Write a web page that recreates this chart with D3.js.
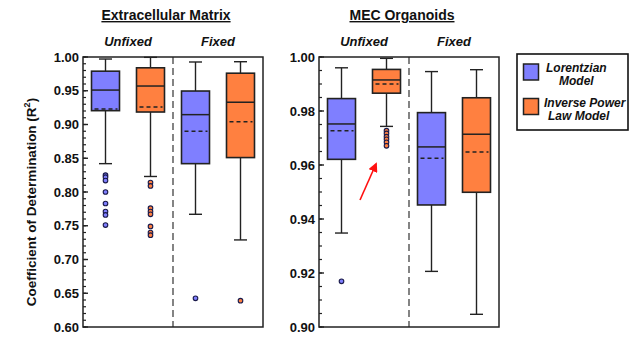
<!DOCTYPE html>
<html><head><meta charset="utf-8">
<script src="https://cdn.jsdelivr.net/npm/d3@7"></script>
<style>
html,body{margin:0;padding:0;background:#fff;}
text{font-family:"Liberation Sans",Arial,sans-serif;}
</style></head>
<body>
<svg id="chart" width="631" height="337"></svg>
<script>
// ---- data ----
const models = ["Lorentzian Model", "Inverse Power Law Model"];
const conditions = ["Unfixed", "Fixed"];
const boxKeys = ["L-Unfixed", "I-Unfixed", "L-Fixed", "I-Fixed"];

const ecmLow    = [0.842, 0.823, 0.767, 0.729];
const ecmQ1     = [0.9205, 0.9185, 0.842, 0.851];
const ecmMedian = [0.951, 0.957, 0.9146, 0.933];
const ecmQ3     = [0.979, 0.984, 0.9496, 0.976];
const ecmHigh   = [0.997, 0.9995, 0.9926, 0.993];
const ecmMean   = [0.923, 0.926, 0.890, 0.904];
const ecmOutliers = [
  [0.825, 0.822, 0.817, 0.800, 0.783, 0.771, 0.766, 0.751],
  [0.814, 0.809, 0.776, 0.771, 0.767, 0.749, 0.740, 0.736],
  [0.6425],
  [0.639]
];
const ecmTicks = [0.60, 0.65, 0.70, 0.75, 0.80, 0.85, 0.90, 0.95, 1.00];

const mecLow    = [0.9348, 0.9743, 0.9206, 0.9047];
const mecQ1     = [0.9621, 0.9866, 0.9452, 0.9499];
const mecMedian = [0.9752, 0.9915, 0.9667, 0.9714];
const mecQ3     = [0.9846, 0.9954, 0.9794, 0.9849];
const mecHigh   = [0.9960, 0.9995, 0.9946, 0.9953];
const mecMean   = [0.9727, 0.9900, 0.9625, 0.9648];
const mecOutliers = [
  [0.9169],
  [0.9727, 0.9717, 0.9705, 0.9695, 0.9684, 0.9671],
  [],
  []
];
const mecTicks = [0.90, 0.92, 0.94, 0.96, 0.98, 1.00];

const titles = ["Extracellular Matrix", "MEC Organoids"];
const yLabel = "Coefficient of Determination (R";
const colors = ["#7f7fff", "#ff8040"];

// ---- drawing ----
const svg = d3.select("#chart");
const plotTop = 57, plotBottom = 327, pw = 180;

function panel(x0, domain, ticks, minorStep, fmt, low, q1, med, q3, high, mean, outl, title) {
  const g = svg.append("g").attr("transform", `translate(${x0},0)`);
  const y = d3.scaleLinear().domain(domain).range([plotBottom, plotTop]);
  const x = d3.scaleBand().domain(boxKeys).range([0, pw]).padding(0);
  const bw = 28, cap = 13;
  const cx = k => x(k) + x.bandwidth() / 2;

  const nMinor = Math.round((domain[1] - domain[0]) / minorStep);
  const minors = d3.range(nMinor + 1).map(i => domain[0] + i * minorStep);
  g.selectAll(".minor").data(minors).join("line")
    .attr("x1", 0).attr("x2", 3).attr("y1", d => y(d)).attr("y2", d => y(d))
    .attr("stroke", "#222").attr("stroke-width", 1.2);
  g.selectAll(".major").data(ticks).join("line")
    .attr("x1", 0).attr("x2", 5).attr("y1", d => y(d)).attr("y2", d => y(d))
    .attr("stroke", "#222").attr("stroke-width", 1.4);
  g.selectAll(".tl").data(ticks).join("text")
    .attr("x", -4).attr("y", d => y(d)).attr("dy", "0.36em")
    .attr("text-anchor", "end").attr("font-size", 13).attr("font-weight", "bold")
    .attr("fill", "#111").text(d => fmt(d));

  g.append("line").attr("x1", pw / 2).attr("x2", pw / 2).attr("y1", plotTop).attr("y2", plotBottom)
    .attr("stroke", "#333").attr("stroke-width", 1.2).attr("stroke-dasharray", "7,4");

  conditions.forEach((c, i) => {
    g.append("text").attr("x", pw / 4 + i * pw / 2).attr("y", 46)
      .attr("text-anchor", "middle").attr("font-size", 13).attr("font-weight", "bold")
      .attr("font-style", "italic").attr("fill", "#111").text(c);
  });

  g.append("text").attr("x", pw / 2 - 7).attr("y", 20)
    .attr("text-anchor", "middle").attr("font-size", 14).attr("font-weight", "bold")
    .attr("text-decoration", "underline").attr("fill", "#111").text(title);

  boxKeys.forEach((k, i) => {
    const c = cx(k), col = colors[i % 2];
    const wg = g.append("g");
    wg.append("line").attr("x1", c).attr("x2", c).attr("y1", y(q3[i])).attr("y2", y(high[i]));
    wg.append("line").attr("x1", c).attr("x2", c).attr("y1", y(q1[i])).attr("y2", y(low[i]));
    wg.append("line").attr("x1", c - cap / 2).attr("x2", c + cap / 2).attr("y1", y(high[i])).attr("y2", y(high[i]));
    wg.append("line").attr("x1", c - cap / 2).attr("x2", c + cap / 2).attr("y1", y(low[i])).attr("y2", y(low[i]));
    wg.selectAll("line").attr("stroke", "#222").attr("stroke-width", 1.4);
    g.append("rect").attr("x", c - bw / 2).attr("y", y(q3[i]))
      .attr("width", bw).attr("height", y(q1[i]) - y(q3[i]))
      .attr("fill", col).attr("stroke", "#222").attr("stroke-width", 1.6);
    g.append("line").attr("x1", c - bw / 2).attr("x2", c + bw / 2)
      .attr("y1", y(med[i])).attr("y2", y(med[i])).attr("stroke", "#222").attr("stroke-width", 1.5);
    g.append("line").attr("x1", c - bw / 2 + 3).attr("x2", c + bw / 2 - 2)
      .attr("y1", y(mean[i])).attr("y2", y(mean[i])).attr("stroke", "#222").attr("stroke-width", 1.4)
      .attr("stroke-dasharray", "4,3");
    g.selectAll(null).data(outl[i]).join("circle")
      .attr("cx", c).attr("cy", d => y(d)).attr("r", 2.3)
      .attr("fill", col).attr("stroke", "#1a1a4a").attr("stroke-width", 1.1);
  });

  g.append("rect").attr("x", 0).attr("y", plotTop).attr("width", pw).attr("height", plotBottom - plotTop)
    .attr("fill", "none").attr("stroke", "#222").attr("stroke-width", 1.5);
  return {g, y, x};
}

panel(83, [0.60, 1.00], ecmTicks, 0.01, d3.format(".2f"),
  ecmLow, ecmQ1, ecmMedian, ecmQ3, ecmHigh, ecmMean, ecmOutliers, titles[0]);
panel(319, [0.90, 1.00], mecTicks, 0.005, d3.format(".2f"),
  mecLow, mecQ1, mecMedian, mecQ3, mecHigh, mecMean, mecOutliers, titles[1]);

const yl = svg.append("text").attr("transform", "translate(36,202) rotate(-90)")
  .attr("text-anchor", "middle").attr("font-size", 13.5).attr("font-weight", "bold").attr("fill", "#111");
yl.append("tspan").text(yLabel);
yl.append("tspan").attr("font-size", 9).attr("dy", -6).text("2");
yl.append("tspan").attr("dy", 6).text(")");

svg.append("defs").append("marker").attr("id", "ah").attr("viewBox", "0 0 10 10")
  .attr("refX", 8).attr("refY", 5).attr("markerWidth", 6).attr("markerHeight", 6)
  .attr("orient", "auto").append("path").attr("d", "M0,0L10,5L0,10Z").attr("fill", "#ff1010");
svg.append("line").attr("x1", 360).attr("y1", 200).attr("x2", 376).attr("y2", 164)
  .attr("stroke", "#ff1010").attr("stroke-width", 1.6).attr("marker-end", "url(#ah)");

const lg = svg.append("g");
lg.append("rect").attr("x", 517).attr("y", 54).attr("width", 111).attr("height", 76)
  .attr("fill", "#fff").attr("stroke", "#111").attr("stroke-width", 1.6);
const legLines = [["Lorentzian", "Model"], ["Inverse Power", "Law Model"]];
const legX = [[546, 559], [544, 548]];
models.forEach((m, i) => {
  const sy = 64 + i * 34.5;
  lg.append("rect").attr("x", 523.5).attr("y", sy).attr("width", 15).attr("height", 16)
    .attr("fill", colors[i]).attr("stroke", "#222").attr("stroke-width", 1.5);
  legLines[i].forEach((ln, j) => {
    lg.append("text").attr("x", legX[i][j]).attr("y", sy + 8 + j * 13)
      .attr("font-size", 12).attr("font-weight", "bold").attr("font-style", "italic")
      .attr("fill", "#111").text(ln);
  });
});
</script>
</body></html>
